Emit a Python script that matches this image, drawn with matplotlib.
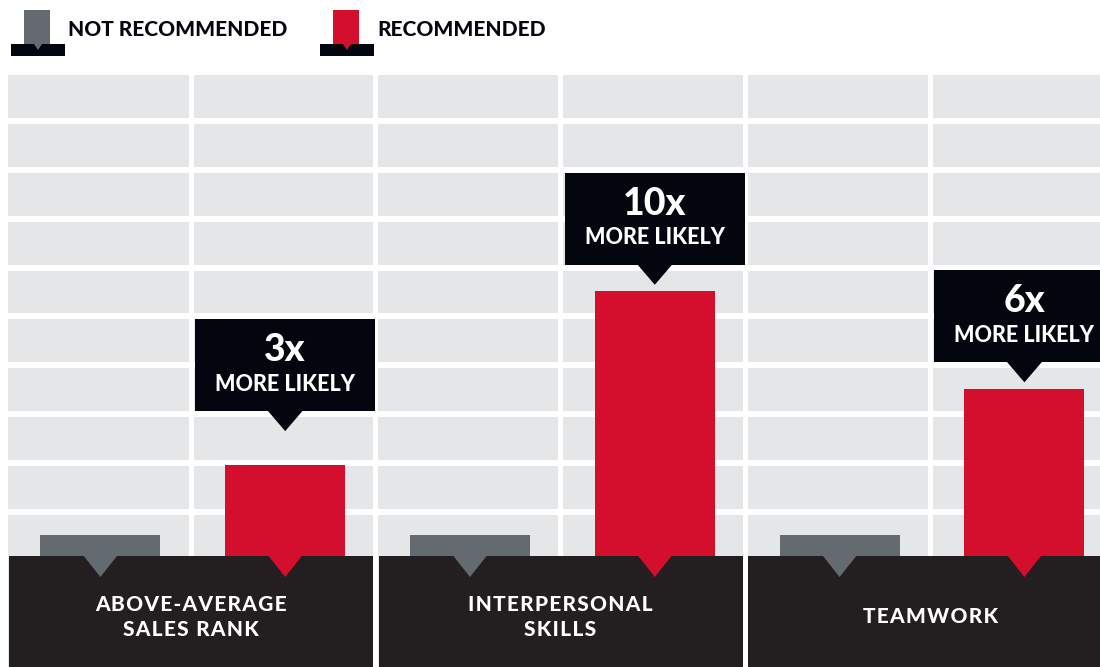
import numpy as np
import matplotlib.pyplot as plt
from matplotlib.patches import Rectangle, Polygon

# data (heights in grid-row units)
categories = ['ABOVE-AVERAGE\nSALES RANK', 'INTERPERSONAL\nSKILLS', 'TEAMWORK']
not_recommended = [0.43, 0.43, 0.43]
recommended = [1.87, 5.43, 3.42]
callouts = ['3x', '10x', '6x']
legend_labels = ['NOT RECOMMENDED', 'RECOMMENDED']

GRAY = '#636a70'
RED = '#d40e2d'
BAND = '#231f20'
BOX = '#03060e'
CELL = '#e5e6e8'
FONT = ['Lato', 'DejaVu Sans']
WEIGHT = 'black'


def spaced(s, gap='\u200a'):
    # poor man's letter spacing
    return '\n'.join(gap.join(line) for line in s.split('\n'))


fig = plt.figure(figsize=(11, 6.67), dpi=100)

# main panel
ax = fig.add_axes([8 / 1100, 0, 1092 / 1100, 592 / 667])
ax.set_facecolor(CELL)
ax.set_xlim(0, 5.909)
band_depth = 2.2755
ax.set_ylim(-band_depth, 9.861)
grid_y = np.arange(9) + 0.912
ax.set_xticks(np.arange(5) + 0.988)
ax.set_yticks(grid_y)
ax.xaxis.grid(True, color='white', lw=3.6)
ax.yaxis.grid(True, color='white', lw=4.3)
ax.set_axisbelow(True)
ax.tick_params(length=0, labelbottom=False, labelleft=False)
for s in ax.spines.values():
    s.set_visible(False)

n = len(categories)
x_gray = np.arange(n) * 2 + 0.5
x_red = x_gray + 1
bw = 0.65

# dark bases under each pair
ax.bar(x_gray + 0.49, band_depth, width=1.97, bottom=-band_depth, color=BAND, zorder=3)
ax.bar(x_gray, not_recommended, width=bw, color=GRAY, zorder=2)
ax.bar(x_red, recommended, width=bw, color=RED, zorder=2)

# little pointers hanging from the bars
for xs, c in [(x_gray, GRAY), (x_red, RED)]:
    for xc in xs:
        ax.fill([xc - 0.092, xc + 0.092, xc], [0.01, 0.01, -0.43], color=c, lw=0, zorder=4)

for i, lab in enumerate(categories):
    ax.text(x_gray[i] + 0.49, -1.25, spaced(lab), color='white', fontsize=15,
            fontweight=WEIGHT, family=FONT, ha='center', va='center',
            linespacing=1.35, zorder=6)

# callout boxes, snapped to span two grid cells above the bar
box_h = 1.886
for xc, h, lab in zip(x_red, recommended, callouts):
    y0 = np.ceil(h + 0.5 - 0.97) + 0.97
    ax.add_patch(Rectangle((xc - 0.487, y0), 0.974, box_h, color=BOX, lw=0, zorder=5))
    ax.add_patch(Polygon([(xc - 0.095, y0 + 0.01), (xc + 0.095, y0 + 0.01), (xc, y0 - 0.41)],
                         color=BOX, lw=0, zorder=5))
    ax.text(xc, y0 + box_h - 0.63, lab, color='white', fontsize=27, fontweight=WEIGHT,
            family=FONT, ha='center', va='center', zorder=6)
    ax.text(xc, y0 + 0.553, 'MORE LIKELY', color='white', fontsize=15.5,
            fontweight=WEIGHT, family=FONT, ha='center', va='center', zorder=6)

# legend strip
lax = fig.add_axes([0, 592 / 667, 1, 75 / 667])
lax.set_xlim(0, 1100)
lax.set_ylim(75, 0)
lax.axis('off')
for x0, c, lab in [(11, GRAY, legend_labels[0]), (320, RED, legend_labels[1])]:
    lax.add_patch(Rectangle((x0 + 13, 10), 26, 34, color=c, lw=0))
    lax.add_patch(Rectangle((x0, 44), 54, 12, color=BOX, lw=0))
    lax.add_patch(Polygon([(x0 + 23, 44), (x0 + 31, 44), (x0 + 27, 50)], color=c, lw=0))
    lax.text(x0 + 57, 29.5, lab, color=BOX, fontsize=15, fontweight=WEIGHT, family=FONT,
             ha='left', va='center')

fig.savefig('out.png', dpi=100)
